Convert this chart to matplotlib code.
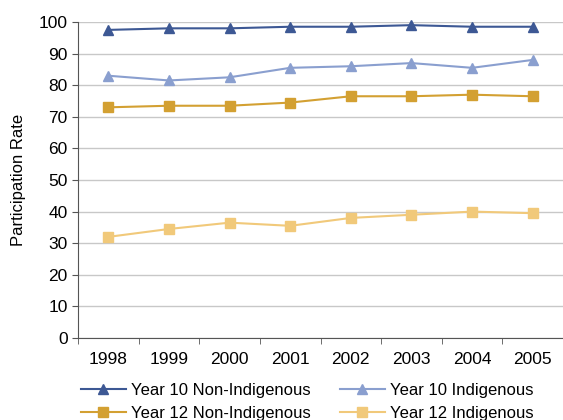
import matplotlib
matplotlib.use("Agg")
import matplotlib.pyplot as plt
import numpy as np

years = ["1998", "1999", "2000", "2001", "2002", "2003", "2004", "2005"]
y10_non_indig = [97.5, 98, 98, 98.5, 98.5, 99, 98.5, 98.5]
y10_indig = [83, 81.5, 82.5, 85.5, 86, 87, 85.5, 88]
y12_non_indig = [73, 73.5, 73.5, 74.5, 76.5, 76.5, 77, 76.5]
y12_indig = [32, 34.5, 36.5, 35.5, 38, 39, 40, 39.5]

plt.rcParams['font.family'] = ['Liberation Sans', 'DejaVu Sans']

fig = plt.figure(figsize=(5.63, 4.20), dpi=100)
ax = fig.add_axes([78/563, 1-338/420, 1-78/563, (338-22)/420])

x = np.arange(len(years))
series = [
    (y10_non_indig, "Year 10 Non-Indigenous", "#3d5894", "^"),
    (y10_indig, "Year 10 Indigenous", "#8a9fcf", "^"),
    (y12_non_indig, "Year 12 Non-Indigenous", "#d3a032", "s"),
    (y12_indig, "Year 12 Indigenous", "#f1c97a", "s"),
]
for vals, label, col, mk in series:
    ax.plot(x, vals, color=col, marker=mk, markersize=7.5, linewidth=1.5,
            label=label, clip_on=False, zorder=3)

ax.set_xlim(-0.5, len(years) - 0.5)
ax.set_ylim(0, 100)
ax.set_yticks(range(0, 101, 10))
ax.set_xticks(x)
ax.set_xticklabels(years)
ax.set_xticks(np.arange(-0.5, len(years)), minor=True)
ax.tick_params(axis='x', which='major', length=0, pad=10, labelsize=12.5)
ax.tick_params(axis='x', which='minor', length=4, direction='out', color='#555555')
ax.tick_params(axis='y', length=4, direction='out', labelsize=12.5, color='#555555')
ax.grid(axis='y', color='#c8c8c8', linewidth=1)
ax.set_axisbelow(True)
for s in ['top', 'right']:
    ax.spines[s].set_visible(False)
ax.spines['left'].set_color('#555555')
ax.spines['bottom'].set_color('#555555')
ax.set_ylabel("Participation Rate", fontsize=12, labelpad=9)

# legend is filled row by row in the reference
handles, labels = ax.get_legend_handles_labels()
order = [0, 2, 1, 3]
fig.legend([handles[i] for i in order], [labels[i] for i in order],
           loc='upper left', bbox_to_anchor=(74/563, 1-376/420), ncol=2,
           frameon=False, fontsize=12, markerscale=0.9, handlelength=2.7,
           handletextpad=0.3, columnspacing=1.75, labelspacing=0.5,
           borderaxespad=0)

fig.savefig("out.png", dpi=100)
